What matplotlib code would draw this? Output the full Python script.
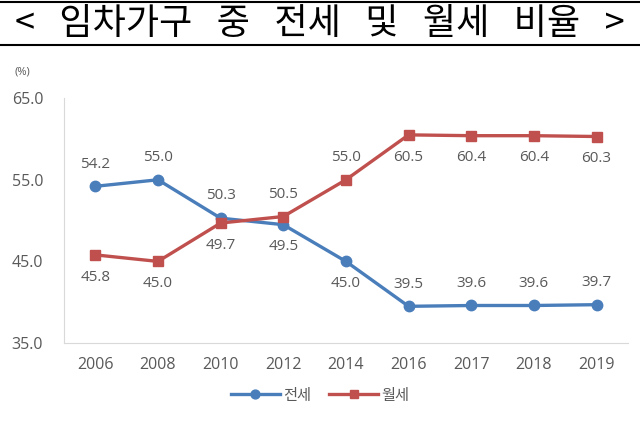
import matplotlib.pyplot as plt
from matplotlib.lines import Line2D

plt.rcParams['font.family'] = ['Open Sans', 'Noto Sans CJK KR', 'DejaVu Sans']

years = ['2006', '2008', '2010', '2012', '2014', '2016', '2017', '2018', '2019']
jeonse = [54.2, 55.0, 50.3, 49.5, 45.0, 39.5, 39.6, 39.6, 39.7]
wolse = [45.8, 45.0, 49.7, 50.5, 55.0, 60.5, 60.4, 60.4, 60.3]
# label above (1) or below (-1) the point
jeonse_pos = [1, 1, 1, -1, -1, 1, 1, 1, 1]
wolse_pos = [-1, -1, -1, 1, 1, -1, -1, -1, -1]

blue = '#4a7ebb'
red = '#c0504d'
grey = '#595959'

fig = plt.figure(figsize=(6.4, 4.23), dpi=100)
ax = fig.add_axes([0.1, 0.189, 0.881, 0.579])

x = list(range(len(years)))
ax.plot(x, jeonse, color=blue, lw=2.4, marker='o', ms=7.5, label='전세')
ax.plot(x, wolse, color=red, lw=2.4, marker='s', ms=7.5, label='월세')

for xi, v, p in zip(x, jeonse, jeonse_pos):
    ax.annotate(f'{v:.1f}', (xi, v), xytext=(0, 16 * p), textcoords='offset points',
                ha='center', va='center', fontsize=11, color=grey)
for xi, v, p in zip(x, wolse, wolse_pos):
    ax.annotate(f'{v:.1f}', (xi, v), xytext=(0, 16 * p), textcoords='offset points',
                ha='center', va='center', fontsize=11, color=grey)

ax.set_xlim(-0.5, len(years) - 0.5)
ax.set_ylim(35, 65)
ax.set_yticks([35, 45, 55, 65])
ax.set_yticklabels(['35.0', '45.0', '55.0', '65.0'])
ax.set_xticks(x)
ax.set_xticklabels(years)
ax.tick_params(length=0, labelsize=11.5, colors=grey)
ax.tick_params(axis='y', pad=15)
ax.tick_params(axis='x', pad=10)
for s in ['top', 'right']:
    ax.spines[s].set_visible(False)
for s in ['left', 'bottom']:
    ax.spines[s].set_color('#d9d9d9')

fig.text(0.035, 0.83, '(%)', fontsize=8, color=grey, ha='center', va='center')

fig.text(0.5, 0.944, '<   임차가구   중   전세   및   월세   비율   >', fontsize=26,
         ha='center', va='center', color='black',
         family=['Noto Sans CJK KR', 'DejaVu Sans'])
fig.add_artist(Line2D([0, 1], [0.996, 0.996], color='black', lw=1.5))
fig.add_artist(Line2D([0, 1], [0.893, 0.893], color='black', lw=1.5))

fig.legend(loc='center', bbox_to_anchor=(0.5, 0.066), ncol=2, frameon=False,
           prop={'family': ['Noto Sans CJK KR', 'DejaVu Sans'], 'size': 11},
           handlelength=3.2, columnspacing=1.2, handletextpad=0.2,
           markerscale=0.85, labelcolor=grey)

fig.savefig('out.png', dpi=100)
